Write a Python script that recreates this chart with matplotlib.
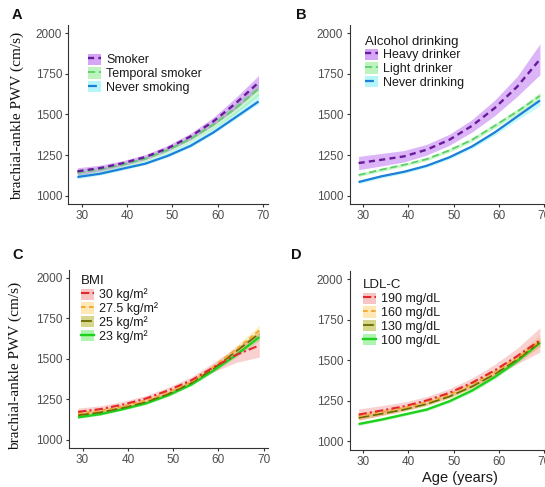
import matplotlib
matplotlib.use("Agg")
import matplotlib.pyplot as plt
from matplotlib.patches import Patch
from matplotlib.lines import Line2D

# ---------------- data ----------------
age = [29, 34, 39, 44, 49, 54, 59, 64, 69]

# A: smoking status
smoker = [1150, 1170, 1200, 1238, 1293, 1365, 1457, 1570, 1697]
smoker_lo = [1128, 1152, 1184, 1222, 1276, 1345, 1432, 1535, 1655]
smoker_hi = [1172, 1188, 1216, 1254, 1310, 1385, 1482, 1605, 1740]
temporal = [1142, 1162, 1192, 1228, 1282, 1350, 1437, 1540, 1658]
temporal_lo = [1124, 1146, 1177, 1213, 1266, 1331, 1413, 1508, 1618]
temporal_hi = [1160, 1178, 1207, 1243, 1298, 1369, 1461, 1572, 1690]
never_smk = [1115, 1135, 1166, 1197, 1246, 1307, 1389, 1484, 1580]
never_smk_lo = [1105, 1126, 1158, 1190, 1238, 1298, 1380, 1474, 1566]
never_smk_hi = [1130, 1150, 1181, 1214, 1266, 1330, 1416, 1520, 1632]

# B: alcohol drinking
heavy = [1201, 1221, 1242, 1283, 1344, 1430, 1539, 1672, 1840]
heavy_lo = [1160, 1183, 1207, 1250, 1310, 1392, 1492, 1612, 1745]
heavy_hi = [1242, 1260, 1278, 1316, 1378, 1468, 1588, 1735, 1935]
light = [1127, 1160, 1190, 1225, 1279, 1344, 1430, 1518, 1615]
light_lo = [1118, 1150, 1180, 1215, 1268, 1332, 1416, 1502, 1595]
light_hi = [1136, 1170, 1200, 1235, 1290, 1356, 1444, 1534, 1635]
never_drk = [1084, 1119, 1147, 1184, 1236, 1303, 1389, 1488, 1586]
never_drk_lo = [1074, 1108, 1137, 1174, 1225, 1290, 1372, 1466, 1555]
never_drk_hi = [1094, 1129, 1156, 1193, 1246, 1314, 1400, 1500, 1600]

# C: BMI
bmi30 = [1173, 1190, 1218, 1255, 1306, 1367, 1449, 1525, 1582]
bmi30_lo = [1150, 1170, 1198, 1236, 1286, 1346, 1420, 1478, 1510]
bmi30_hi = [1196, 1210, 1238, 1274, 1326, 1388, 1478, 1572, 1660]
bmi27 = [1163, 1180, 1207, 1243, 1293, 1358, 1452, 1560, 1675]
bmi27_lo = [1150, 1168, 1196, 1232, 1282, 1346, 1436, 1538, 1645]
bmi27_hi = [1176, 1192, 1218, 1254, 1304, 1370, 1468, 1582, 1705]
bmi25 = [1152, 1170, 1198, 1234, 1284, 1350, 1442, 1548, 1655]
bmi25_lo = [1142, 1161, 1190, 1226, 1276, 1341, 1430, 1532, 1630]
bmi25_hi = [1162, 1179, 1206, 1242, 1292, 1359, 1454, 1564, 1680]
bmi23 = [1139, 1159, 1190, 1225, 1276, 1341, 1429, 1525, 1633]
bmi23_lo = [1132, 1152, 1183, 1218, 1268, 1333, 1419, 1512, 1612]
bmi23_hi = [1146, 1166, 1197, 1232, 1284, 1349, 1439, 1538, 1654]

# D: LDL-C
ldl190 = [1165, 1190, 1216, 1252, 1299, 1361, 1437, 1526, 1623]
ldl190_lo = [1130, 1160, 1190, 1228, 1274, 1332, 1400, 1478, 1550]
ldl190_hi = [1200, 1220, 1242, 1276, 1324, 1390, 1474, 1574, 1700]
ldl160 = [1155, 1180, 1206, 1241, 1288, 1350, 1425, 1515, 1618]
ldl160_lo = [1135, 1162, 1190, 1226, 1272, 1333, 1405, 1490, 1580]
ldl160_hi = [1175, 1198, 1222, 1256, 1304, 1367, 1445, 1540, 1656]
ldl130 = [1145, 1170, 1196, 1230, 1276, 1338, 1414, 1505, 1612]
ldl130_lo = [1133, 1159, 1186, 1220, 1266, 1327, 1401, 1489, 1590]
ldl130_hi = [1157, 1181, 1206, 1240, 1286, 1349, 1427, 1521, 1634]
ldl100 = [1107, 1134, 1165, 1196, 1247, 1313, 1396, 1495, 1608]
ldl100_lo = [1099, 1126, 1157, 1188, 1238, 1303, 1385, 1482, 1590]
ldl100_hi = [1115, 1142, 1173, 1204, 1256, 1323, 1407, 1508, 1626]

x_ticks = [30, 40, 50, 60, 70]
y_ticks = [1000, 1250, 1500, 1750, 2000]
y_label = "brachial-ankle PWV (cm/s)"
x_label = "Age (years)"

# ---------------- styling ----------------
W, H = 545, 487
fig = plt.figure(figsize=(W / 100, H / 100), dpi=100)
plt.rcParams["font.family"] = ["Liberation Sans", "DejaVu Sans"]

TICK_COL = "#4D4D4D"
AXIS_COL = "#333333"


def px_rect(left, top, right, bottom):
    return [left / W, 1 - bottom / H, (right - left) / W, (bottom - top) / H]


def setup_axes(rect):
    ax = fig.add_axes(px_rect(*rect))
    ax.set_xlim(27, 71)
    ax.set_ylim(950, 2050)
    ax.set_xticks(x_ticks)
    ax.set_yticks(y_ticks)
    for side in ("top", "right"):
        ax.spines[side].set_visible(False)
    for side in ("left", "bottom"):
        ax.spines[side].set_color(AXIS_COL)
        ax.spines[side].set_linewidth(0.8)
    ax.tick_params(axis="both", length=2.5, width=0.8, color=AXIS_COL,
                   labelcolor=TICK_COL, labelsize=8.5, pad=2)
    return ax


def draw_group(ax, series):
    # ribbons first, then the fitted lines on top
    for s in series:
        ax.fill_between(age, s["lo"], s["hi"], color=s["fill"], alpha=s["alpha"],
                        linewidth=0)
    for s in series:
        ax.plot(age, s["y"], color=s["color"], linestyle=s["ls"], lw=s["lw"],
                solid_capstyle="butt", dash_capstyle="butt")


def add_legend(ax, series, anchor_px, title=None):
    handles = []
    for s in series:
        p = Patch(facecolor=s["fill"], alpha=s["alpha"] + 0.1, edgecolor="none")
        ln = Line2D([], [], color=s["color"], linestyle=s["key_ls"], lw=s["lw"])
        handles.append((p, ln))
    leg = ax.legend(handles, [s["label"] for s in series], loc="upper left",
                    bbox_to_anchor=(anchor_px[0] / W, 1 - anchor_px[1] / H),
                    bbox_transform=fig.transFigure, frameon=False,
                    fontsize=9, handlelength=1.0, handleheight=1.0,
                    labelspacing=0.08, handletextpad=0.45, borderpad=0,
                    borderaxespad=0, title=title, title_fontsize=9.5,
                    alignment="left")
    for t in leg.get_texts():
        t.set_color("#1A1A1A")
    if title:
        leg.get_title().set_color("#1A1A1A")
    return leg


PURPLE_FILL, PURPLE_LINE = "#B35CF0", "#6A1B9A"
GREEN_FILL, GREEN_LINE = "#7CEB7C", "#5CCF6A"
CYAN_FILL, BLUE_LINE = "#6EEFF5", "#1E7FD8"
RED_FILL, RED_LINE = "#F28C8C", "#E3262B"
ORANGE_FILL, ORANGE_LINE = "#FFD36E", "#F2A62B"
OLIVE_FILL, OLIVE_LINE = "#A8A800", "#6B6B00"
LGREEN_FILL, LGREEN_LINE = "#4EE84E", "#1DD11D"

dash = (0, (2.6, 1.8))
dash_g = (0, (4, 2))
dotdash = (0, (4, 1.5, 1, 1.5))
longdash = (0, (6, 2))

# ---------------- panel A ----------------
axA = setup_axes((68.3, 25.2, 267.6, 203.8))
ser_A = [
    dict(label="Smoker", y=smoker, lo=smoker_lo, hi=smoker_hi, fill=PURPLE_FILL,
         alpha=0.45, color=PURPLE_LINE, ls=dash, key_ls=dash, lw=1.7),
    dict(label="Temporal smoker", y=temporal, lo=temporal_lo, hi=temporal_hi,
         fill=GREEN_FILL, alpha=0.4, color=GREEN_LINE, ls=dash_g, key_ls=dash_g, lw=1.3),
    dict(label="Never smoking", y=never_smk, lo=never_smk_lo, hi=never_smk_hi,
         fill=CYAN_FILL, alpha=0.4, color=BLUE_LINE, ls="-", key_ls=dash_g, lw=1.6),
]
draw_group(axA, ser_A[::-1])
add_legend(axA, ser_A, (88, 53.5))

# ---------------- panel B ----------------
axB = setup_axes((349.5, 25.2, 549.0, 203.8))
ser_B = [
    dict(label="Heavy drinker", y=heavy, lo=heavy_lo, hi=heavy_hi, fill=PURPLE_FILL,
         alpha=0.45, color=PURPLE_LINE, ls=dash, key_ls=dash, lw=1.7),
    dict(label="Light drinker", y=light, lo=light_lo, hi=light_hi,
         fill=GREEN_FILL, alpha=0.4, color=GREEN_LINE, ls=dash_g, key_ls=dash_g, lw=1.3),
    dict(label="Never drinking", y=never_drk, lo=never_drk_lo, hi=never_drk_hi,
         fill=CYAN_FILL, alpha=0.4, color=BLUE_LINE, ls="-", key_ls=dash_g, lw=1.6),
]
draw_group(axB, ser_B[::-1])
add_legend(axB, ser_B, (365, 35.5), title="Alcohol drinking")

# ---------------- panel C ----------------
axC = setup_axes((69.0, 269.5, 268.3, 448.0))
ser_C = [
    dict(label="30 kg/m²", y=bmi30, lo=bmi30_lo, hi=bmi30_hi, fill=RED_FILL,
         alpha=0.4, color=RED_LINE, ls=dotdash, key_ls=dotdash, lw=1.5),
    dict(label="27.5 kg/m²", y=bmi27, lo=bmi27_lo, hi=bmi27_hi, fill=ORANGE_FILL,
         alpha=0.4, color=ORANGE_LINE, ls=dash, key_ls=dash, lw=1.3),
    dict(label="25 kg/m²", y=bmi25, lo=bmi25_lo, hi=bmi25_hi, fill=OLIVE_FILL,
         alpha=0.35, color=OLIVE_LINE, ls=longdash, key_ls=longdash, lw=1.3),
    dict(label="23 kg/m²", y=bmi23, lo=bmi23_lo, hi=bmi23_hi, fill=LGREEN_FILL,
         alpha=0.35, color=LGREEN_LINE, ls="-", key_ls="-", lw=1.7),
]
draw_group(axC, ser_C[::-1])
add_legend(axC, ser_C, (81, 275.5), title="BMI")

# ---------------- panel D ----------------
axD = setup_axes((349.5, 271.0, 549.0, 449.5))
ser_D = [
    dict(label="190 mg/dL", y=ldl190, lo=ldl190_lo, hi=ldl190_hi, fill=RED_FILL,
         alpha=0.4, color=RED_LINE, ls=dotdash, key_ls=dotdash, lw=1.5),
    dict(label="160 mg/dL", y=ldl160, lo=ldl160_lo, hi=ldl160_hi, fill=ORANGE_FILL,
         alpha=0.4, color=ORANGE_LINE, ls=dash, key_ls=dash, lw=1.3),
    dict(label="130 mg/dL", y=ldl130, lo=ldl130_lo, hi=ldl130_hi, fill=OLIVE_FILL,
         alpha=0.35, color=OLIVE_LINE, ls=longdash, key_ls=longdash, lw=1.3),
    dict(label="100 mg/dL", y=ldl100, lo=ldl100_lo, hi=ldl100_hi, fill=LGREEN_FILL,
         alpha=0.35, color=LGREEN_LINE, ls="-", key_ls="-", lw=1.7),
]
draw_group(axD, ser_D[::-1])
add_legend(axD, ser_D, (363, 279.5), title="LDL-C")

# ---------------- labels ----------------
for lab, (x, y) in zip("ABCD", [(12, 15), (296, 15), (12, 255), (291, 255)]):
    fig.text(x / W, 1 - y / H, lab, fontsize=10.5, fontweight="bold",
             ha="left", va="center", color="#111111")

for (x, y) in [(17, 116), (15, 366)]:
    fig.text(x / W, 1 - y / H, y_label, rotation=90, ha="center", va="center",
             fontsize=11, family=["Liberation Serif", "DejaVu Serif"], color="#111111")

fig.text(460 / W, 1 - 478 / H, x_label, ha="center", va="center",
         fontsize=10.5, color="#1A1A1A")

fig.savefig("out.png", dpi=100)
